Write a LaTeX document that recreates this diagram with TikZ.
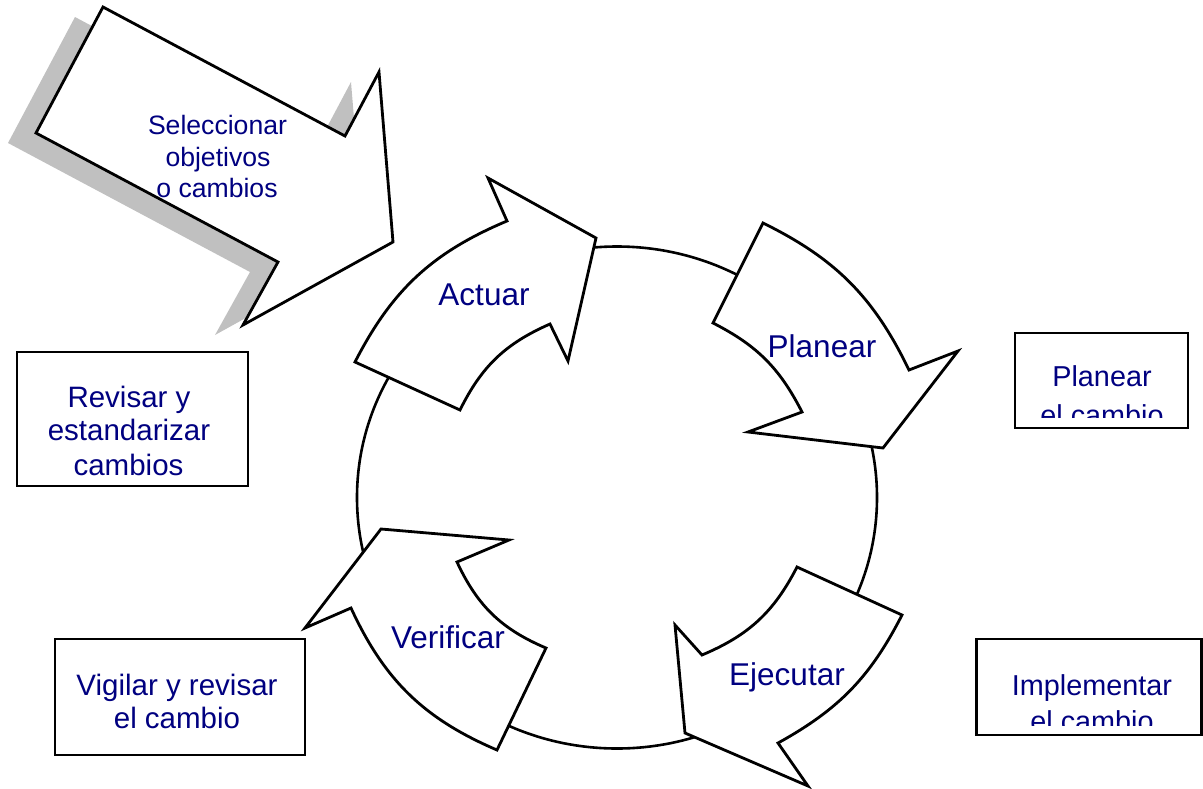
\documentclass[tikz,border=0pt]{standalone}
\usepackage{fontspec}
\setmainfont{Liberation Sans}
\definecolor{navy}{RGB}{0,0,128}
\definecolor{shadowgray}{RGB}{192,192,192}
\begin{document}
\begin{tikzpicture}[x=1pt,y=1pt,
  outline/.style={draw=black,line width=2.8pt,fill=white},
  boxstyle/.style={draw=black,line width=2.5pt,fill=white},
  lbl/.style={text=navy,inner sep=0pt,anchor=base},
  arrowlbl/.style={lbl,font=\fontsize{31.5}{37}\selectfont},
  boxlbl/.style={lbl,font=\fontsize{29.5}{34}\selectfont},
  sellbl/.style={lbl,font=\fontsize{26.6}{31}\selectfont}]
\path[use as bounding box] (0,0) rectangle (1203,-788);

% cycle circle
\draw[line width=2.6pt] (617,-497.5) ellipse [x radius=260, y radius=251];

% Seleccionar arrow with shadow
\coordinate (s1) at (103,-7);
\coordinate (s2) at (36,-133);
\coordinate (s3) at (278,-262);
\coordinate (s4) at (243,-325);
\coordinate (s5) at (393,-242);
\coordinate (s6) at (379,-72);
\coordinate (s7) at (345,-136);
\fill[shadowgray] ([shift={(-28,-10)}]s1) -- ([shift={(-28,-10)}]s2) -- ([shift={(-28,-10)}]s3) -- ([shift={(-28,-10)}]s4) -- ([shift={(-28,-10)}]s5) -- ([shift={(-28,-10)}]s6) -- ([shift={(-28,-10)}]s7) -- cycle;
\draw[outline] (s1) -- (s2) -- (s3) -- (s4) -- (s5) -- (s6) -- (s7) -- cycle;
\node[sellbl] (sel1) at (217.5,-134) {Seleccionar};
\node[sellbl] (sel2) at (218,-166) {objetivos};
\node[sellbl] (sel3) at (217,-197) {o cambios};

% Actuar arrow
\coordinate (a1) at (355,-362);
\coordinate (a2) at (507,-221);
\coordinate (a3) at (488,-178);
\coordinate (a4) at (596,-238);
\coordinate (a5) at (568,-361);
\coordinate (a6) at (550,-324);
\coordinate (a7) at (460,-410);
\draw[outline] (a1) to[bend left=20] (a2) -- (a3) -- (a4) -- (a5) -- (a6) to[bend right=20] (a7) -- cycle;
\node[arrowlbl] (actuar) at (484,-305) {Actuar};

% Planear arrow
\coordinate (p1) at (763,-223);
\coordinate (p2) at (909,-370);
\coordinate (p3) at (958,-351);
\coordinate (p4) at (883,-448);
\coordinate (p5) at (748,-432);
\coordinate (p6) at (802,-412);
\coordinate (p7) at (713,-323);
\draw[outline] (p1) to[bend left=19] (p2) -- (p3) -- (p4) -- (p5) -- (p6) to[bend right=18] (p7) -- cycle;
\node[arrowlbl] (planear) at (822,-357) {Planear};

% Ejecutar arrow
\coordinate (e1) at (902,-615);
\coordinate (e2) at (778,-743);
\coordinate (e3) at (808,-786);
\coordinate (e4) at (685,-733);
\coordinate (e5) at (675,-625);
\coordinate (e6) at (702,-655);
\coordinate (e7) at (797,-567);
\draw[outline] (e1) to[bend left=17] (e2) -- (e3) -- (e4) -- (e5) -- (e6) to[bend right=20] (e7) -- cycle;
\node[arrowlbl] (ejecutar) at (787,-685) {Ejecutar};

% Verificar arrow
\coordinate (v1) at (497,-750);
\coordinate (v2) at (351,-608);
\coordinate (v3) at (305,-628);
\coordinate (v4) at (381,-529);
\coordinate (v5) at (509,-540);
\coordinate (v6) at (457,-562);
\coordinate (v7) at (546,-648);
\draw[outline] (v1) to[bend left=21] (v2) -- (v3) -- (v4) -- (v5) -- (v6) to[bend right=21] (v7) -- cycle;
\node[arrowlbl] (verificar) at (448,-648) {Verificar};

% Boxes
\node[boxstyle,minimum width=231pt,minimum height=134pt,inner sep=0pt] (revbox) at (132.5,-419) {};
\node[boxlbl] (rev1) at (129,-407) {Revisar y};
\node[boxlbl] (rev2) at (129,-440) {estandarizar};
\node[boxlbl] (rev3) at (128.5,-475) {cambios};

\node[boxstyle,minimum width=250pt,minimum height=116pt,inner sep=0pt] (vigbox) at (180,-697) {};
\node[boxlbl] (vig1) at (177,-695) {Vigilar y revisar};
\node[boxlbl] (vig2) at (177,-728) {el cambio};

\node[boxstyle,minimum width=173pt,minimum height=95pt,inner sep=0pt] (planbox) at (1101.5,-380.5) {};
\begin{scope}
\clip (1016,-334) rectangle (1187,-417);
\node[boxlbl,font=\fontsize{28.8}{34}\selectfont] (plan1) at (1102,-386.5) {Planear};
\node[boxlbl,font=\fontsize{28.8}{34}\selectfont] (plan2) at (1102,-425) {el cambio};
\end{scope}

\node[boxstyle,minimum width=225pt,minimum height=96pt,inner sep=0pt] (impbox) at (1089,-687) {};
\begin{scope}
\clip (977,-640) rectangle (1200,-725);
\node[boxlbl,font=\fontsize{28.8}{34}\selectfont] (imp1) at (1092,-695) {Implementar};
\node[boxlbl,font=\fontsize{28.8}{34}\selectfont] (imp2) at (1092,-731) {el cambio};
\end{scope}
\end{tikzpicture}
\end{document}
